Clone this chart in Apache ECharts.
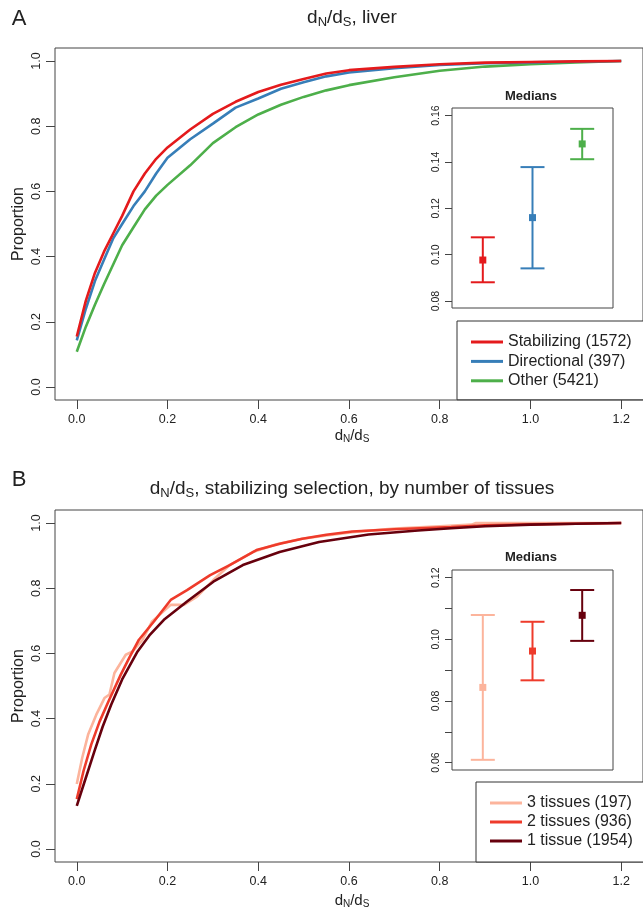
<!DOCTYPE html>
<html>
<head>
<meta charset="utf-8">
<script src="https://cdn.jsdelivr.net/npm/echarts@6/dist/echarts.min.js"></script>
<style>
  html, body { margin: 0; padding: 0; background: #fff; overflow: hidden; }
  #chart { width: 643px; height: 912px; }
</style>
</head>
<body>
<div id="chart"></div>
<script>
// ---- Panel A: cumulative dN/dS in liver, by selection class ----
var xA = [0, 0.02, 0.04, 0.06, 0.08, 0.10, 0.125, 0.15, 0.175, 0.2, 0.25, 0.3, 0.35, 0.4, 0.45, 0.5, 0.55, 0.6, 0.7, 0.8, 0.9, 1.0, 1.1, 1.2];
var stabilizingA = [0.155, 0.265, 0.35, 0.415, 0.47, 0.525, 0.60, 0.655, 0.70, 0.735, 0.79, 0.838, 0.875, 0.905, 0.927, 0.945, 0.962, 0.972, 0.982, 0.99, 0.995, 0.997, 0.999, 1.0];
var directionalA = [0.143, 0.24, 0.325, 0.39, 0.455, 0.50, 0.555, 0.60, 0.655, 0.703, 0.76, 0.808, 0.857, 0.885, 0.915, 0.935, 0.953, 0.965, 0.978, 0.988, 0.993, 0.996, 0.998, 1.0];
var otherA = [0.108, 0.185, 0.252, 0.315, 0.375, 0.435, 0.49, 0.545, 0.587, 0.62, 0.68, 0.748, 0.797, 0.836, 0.866, 0.89, 0.91, 0.926, 0.95, 0.97, 0.983, 0.99, 0.996, 1.0];
var namesA = ['Stabilizing (1572)', 'Directional (397)', 'Other (5421)'];
var colorsA = ['#E41A1C', '#377EB8', '#4DAF4A'];

// medians with interval bounds (inset A)
var medPosA = [1, 2, 3];
var medLowA = [0.0881, 0.0941, 0.1412];
var medA = [0.0977, 0.1160, 0.1478];
var medHighA = [0.1075, 0.1378, 0.1543];

// ---- Panel B: stabilizing selection, by number of tissues ----
var x3t = [0, 0.012, 0.025, 0.043, 0.061, 0.072, 0.083, 0.108, 0.123, 0.145, 0.166, 0.207, 0.236, 0.265, 0.301, 0.337, 0.388, 0.44, 0.497, 0.55, 0.607, 0.7, 0.8, 0.87, 0.88, 1.0, 1.2];
var y3t = [0.199, 0.28, 0.351, 0.412, 0.463, 0.474, 0.54, 0.596, 0.606, 0.642, 0.698, 0.749, 0.749, 0.774, 0.825, 0.871, 0.911, 0.935, 0.952, 0.962, 0.972, 0.983, 0.99, 0.995, 1.0, 1.0, 1.0];
var x2t = [0, 0.015, 0.032, 0.05, 0.07, 0.097, 0.117, 0.137, 0.17, 0.207, 0.243, 0.294, 0.337, 0.396, 0.45, 0.497, 0.55, 0.607, 0.7, 0.825, 0.9, 1.0, 1.1, 1.2];
var y2t = [0.153, 0.24, 0.321, 0.39, 0.453, 0.535, 0.59, 0.642, 0.698, 0.764, 0.794, 0.840, 0.871, 0.917, 0.937, 0.952, 0.964, 0.974, 0.981, 0.988, 0.993, 0.996, 0.998, 1.0];
var x1t = [0, 0.018, 0.039, 0.057, 0.076, 0.1, 0.134, 0.16, 0.192, 0.243, 0.301, 0.366, 0.447, 0.534, 0.643, 0.752, 0.825, 0.9, 1.0, 1.1, 1.2];
var y1t = [0.132, 0.21, 0.30, 0.375, 0.443, 0.52, 0.606, 0.655, 0.703, 0.759, 0.82, 0.871, 0.911, 0.942, 0.965, 0.977, 0.984, 0.99, 0.995, 0.998, 1.0];
var namesB = ['3 tissues (197)', '2 tissues (936)', '1 tissue (1954)'];
var colorsB = ['#FCB49C', '#EE3B2B', '#67000D'];

// medians with interval bounds (inset B)
var medPosB = [1, 2, 3];
var medLowB = [0.0609, 0.0867, 0.0995];
var medB = [0.0844, 0.0962, 0.1078];
var medHighB = [0.1079, 0.1057, 0.1160];

// axis tick values
var mainTicksX = [0, 0.2, 0.4, 0.6, 0.8, 1.0, 1.2];
var mainTicksY = [0, 0.2, 0.4, 0.6, 0.8, 1.0];
var insetTicksA = [0.08, 0.10, 0.12, 0.14, 0.16];
var insetTicksB = [0.06, 0.07, 0.08, 0.09, 0.10, 0.11, 0.12];
var insetLabelsB = [0.06, 0.08, 0.10, 0.12];

var FONT = '"Liberation Sans", Arial, Helvetica, sans-serif';
var INK = '#222';
var FRAME = '#444';

function pairs(xs, ys) { return xs.map(function (x, i) { return [x, ys[i]]; }); }

function mainX(gi) {
  return {
    type: 'value', gridIndex: gi, min: -0.048, max: 1.248,
    axisLine: { show: false, onZero: false }, splitLine: { show: false },
    axisTick: { show: true, length: 9, customValues: mainTicksX, lineStyle: { color: FRAME } },
    axisLabel: { customValues: mainTicksX, margin: 13, fontSize: 12.5, fontFamily: FONT, color: INK,
      formatter: function (v) { return v.toFixed(1); } }
  };
}
function mainY(gi) {
  return {
    type: 'value', gridIndex: gi, min: -0.04, max: 1.04,
    axisLine: { show: false, onZero: false }, splitLine: { show: false },
    axisTick: { show: true, length: 9, customValues: mainTicksY, lineStyle: { color: FRAME } },
    axisLabel: { customValues: mainTicksY, rotate: 90, margin: 12, fontSize: 12.5, fontFamily: FONT, color: INK,
      formatter: function (v) { return v.toFixed(1); } }
  };
}
function insetX(gi) {
  return { type: 'value', gridIndex: gi, min: 0.38, max: 3.62, show: false, axisLine: { onZero: false } };
}
function insetY(gi, lo, hi, ticks, labels) {
  return {
    type: 'value', gridIndex: gi, min: lo, max: hi,
    axisLine: { show: false, onZero: false }, splitLine: { show: false },
    axisTick: { show: true, length: 7, customValues: ticks, lineStyle: { color: FRAME } },
    axisLabel: { customValues: labels, rotate: 90, margin: 10, fontSize: 10.5, fontFamily: FONT, color: INK,
      formatter: function (v) { return v.toFixed(2); } }
  };
}

function lineSeries(name, data, color, xi) {
  return {
    type: 'line', name: name, xAxisIndex: xi, yAxisIndex: xi, data: data,
    symbol: 'none', smooth: false, color: color,
    lineStyle: { width: 2.6, color: color }, z: 2
  };
}

function errorBars(pos, lo, med, hi, colors, axisIndex) {
  return {
    type: 'custom', xAxisIndex: axisIndex, yAxisIndex: axisIndex, z: 5,
    encode: { x: 0, y: [1, 2, 3] },
    data: pos.map(function (p, i) { return [p, lo[i], med[i], hi[i]]; }),
    renderItem: function (params, api) {
      var x = api.value(0);
      var pl = api.coord([x, api.value(1)]);
      var pm = api.coord([x, api.value(2)]);
      var ph = api.coord([x, api.value(3)]);
      var c = colors[params.dataIndex];
      var cap = 12, sq = 7;
      var st = { stroke: c, lineWidth: 2 };
      return {
        type: 'group',
        children: [
          { type: 'line', shape: { x1: pl[0], y1: pl[1], x2: ph[0], y2: ph[1] }, style: st },
          { type: 'line', shape: { x1: pl[0] - cap, y1: pl[1], x2: pl[0] + cap, y2: pl[1] }, style: st },
          { type: 'line', shape: { x1: ph[0] - cap, y1: ph[1], x2: ph[0] + cap, y2: ph[1] }, style: st },
          { type: 'rect', shape: { x: pm[0] - sq / 2, y: pm[1] - sq / 2, width: sq, height: sq }, style: { fill: c } }
        ]
      };
    }
  };
}

// d_N/d_S written with subscripts
function dnds(size, sub, rest) {
  return {
    text: '{m|d}{s|N}{m|/d}{s|S}' + (rest ? '{m|' + rest + '}' : ''),
    rich: {
      m: { fontSize: size, fontFamily: FONT, fill: INK, lineHeight: size, padding: [0, 0, Math.round(size * 0.12), 0] },
      s: { fontSize: sub, fontFamily: FONT, fill: INK, lineHeight: sub, verticalAlign: 'bottom' }
    }
  };
}
function textEl(x, y, style, rotation) {
  var s = Object.assign({ x: 0, y: 0, align: 'center', verticalAlign: 'middle',
    textAlign: 'center', textVerticalAlign: 'middle', fill: INK }, style);
  return { type: 'text', x: x, y: y, rotation: rotation || 0, style: s, z: 10 };
}

var chart = echarts.init(document.getElementById('chart'), null, { renderer: 'canvas' });

var option = {
  animation: false,
  backgroundColor: '#fff',
  grid: [
    { left: 55, top: 48, width: 594, height: 352, show: true, borderColor: FRAME, borderWidth: 1, backgroundColor: 'transparent' },
    { left: 452, top: 108, width: 161, height: 200, show: true, borderColor: FRAME, borderWidth: 1, backgroundColor: '#fff', z: 3 },
    { left: 55, top: 510, width: 594, height: 352, show: true, borderColor: FRAME, borderWidth: 1, backgroundColor: 'transparent' },
    { left: 452, top: 570, width: 161, height: 200, show: true, borderColor: FRAME, borderWidth: 1, backgroundColor: '#fff', z: 3 }
  ],
  xAxis: [mainX(0), insetX(1), mainX(2), insetX(3)],
  yAxis: [
    mainY(0),
    insetY(1, 0.077, 0.1633, insetTicksA, insetTicksA),
    mainY(2),
    insetY(3, 0.0576, 0.1225, insetTicksB, insetLabelsB)
  ],
  legend: [
    {
      data: namesA, left: 457, top: 321, orient: 'vertical', selectedMode: false,
      icon: 'rect', itemWidth: 32, itemHeight: 3, itemGap: 1.4,
      padding: [12, 17, 10, 14], borderColor: '#333', borderWidth: 1, backgroundColor: '#fff',
      textStyle: { fontSize: 16, lineHeight: 18, fontFamily: FONT, color: INK }
    },
    {
      data: namesB, left: 476, top: 782, orient: 'vertical', selectedMode: false,
      icon: 'rect', itemWidth: 32, itemHeight: 3, itemGap: 1.0,
      padding: [12, 17, 12, 14], borderColor: '#333', borderWidth: 1, backgroundColor: '#fff',
      textStyle: { fontSize: 16, lineHeight: 18, fontFamily: FONT, color: INK }
    }
  ],
  series: [
    lineSeries(namesA[2], pairs(xA, otherA), colorsA[2], 0),
    lineSeries(namesA[1], pairs(xA, directionalA), colorsA[1], 0),
    lineSeries(namesA[0], pairs(xA, stabilizingA), colorsA[0], 0),
    errorBars(medPosA, medLowA, medA, medHighA, colorsA, 1),
    lineSeries(namesB[0], pairs(x3t, y3t), colorsB[0], 2),
    lineSeries(namesB[1], pairs(x2t, y2t), colorsB[1], 2),
    lineSeries(namesB[2], pairs(x1t, y1t), colorsB[2], 2),
    errorBars(medPosB, medLowB, medB, medHighB, colorsB, 3)
  ],
  graphic: [
    textEl(19, 19, { text: 'A', fontSize: 22, fontFamily: FONT }),
    textEl(352, 19, dnds(19, 13, ', liver')),
    textEl(531, 96, { text: 'Medians', fontSize: 13, fontWeight: 'bold', fontFamily: FONT }),
    textEl(19, 224, { text: 'Proportion', fontSize: 16, fontFamily: FONT }, Math.PI / 2),
    textEl(352, 437, dnds(15, 10, '')),

    textEl(19, 480, { text: 'B', fontSize: 22, fontFamily: FONT }),
    textEl(352, 490, dnds(19, 13, ', stabilizing selection, by number of tissues')),
    textEl(531, 557, { text: 'Medians', fontSize: 13, fontWeight: 'bold', fontFamily: FONT }),
    textEl(19, 686, { text: 'Proportion', fontSize: 16, fontFamily: FONT }, Math.PI / 2),
    textEl(352, 902, dnds(15, 10, ''))
  ]
};

chart.setOption(option);
</script>
</body>
</html>
